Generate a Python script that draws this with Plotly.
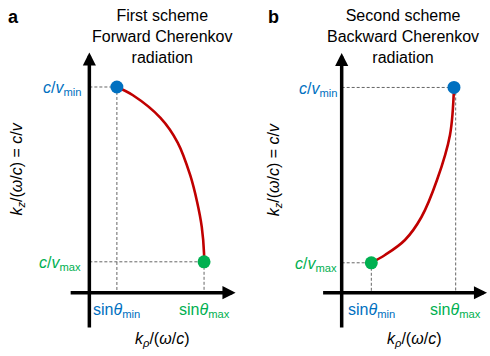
import plotly.graph_objects as go

# ---------------- data (schematic, normalised units) ----------------
# Panel a: first scheme, forward Cherenkov radiation
kr_a = [0.24, 0.38, 0.62, 0.77, 0.88, 0.94, 0.98, 1.0, 1.0]
kz_a = [1.0, 0.96, 0.85, 0.73, 0.57, 0.44, 0.32, 0.19, 0.15]
sin_min_a, sin_max_a = 0.24, 1.0
cv_min_a, cv_max_a = 1.0, 0.15

# Panel b: second scheme, backward Cherenkov radiation
kr_b = [0.26, 0.38, 0.555, 0.70, 0.836, 0.95, 0.985]
kz_b = [0.146, 0.184, 0.257, 0.369, 0.549, 0.769, 1.0]
sin_min_b, sin_max_b = 0.26, 1.0
cv_min_b, cv_max_b = 1.0, 0.146

titles = ["First scheme<br>Forward Cherenkov<br>radiation",
          "Second scheme<br>Backward Cherenkov<br>radiation"]
panel_letters = ["a", "b"]

BLUE = "#0070C0"
GREEN = "#00B050"
RED = "#C00000"
GREY = "#666666"
FONT = "Liberation Sans, Arial, sans-serif"

fig = go.Figure()

panels = [
    dict(xr="x", yr="y", kr=kr_a, kz=kz_a, smin=sin_min_a, smax=sin_max_a,
         cvmin=cv_min_a, cvmax=cv_max_a),
    dict(xr="x2", yr="y2", kr=kr_b, kz=kz_b, smin=sin_min_b, smax=sin_max_b,
         cvmin=cv_min_b, cvmax=cv_max_b),
]

dash_style = dict(color=GREY, width=1, dash="3px,2px")

for i, p in enumerate(panels):
    xr, yr = p["xr"], p["yr"]
    if i == 0:
        blue = (p["smin"], p["cvmin"])
        green = (p["smax"], p["cvmax"])
        vx_blue, vx_green = p["smin"], p["smax"]
    else:
        blue = (p["kr"][-1], p["cvmin"])
        green = (p["smin"], p["cvmax"])
        vx_blue, vx_green = p["smax"], p["smin"]
    # horizontal guides from the y axis
    fig.add_trace(go.Scatter(x=[0, blue[0]], y=[p["cvmin"], p["cvmin"]], mode="lines",
                             line=dash_style, xaxis=xr, yaxis=yr, hoverinfo="skip"))
    fig.add_trace(go.Scatter(x=[0, green[0]], y=[p["cvmax"], p["cvmax"]], mode="lines",
                             line=dash_style, xaxis=xr, yaxis=yr, hoverinfo="skip"))
    # vertical guides down to the x axis
    fig.add_trace(go.Scatter(x=[vx_blue, vx_blue], y=[p["cvmin"], 0], mode="lines",
                             line=dash_style, xaxis=xr, yaxis=yr, hoverinfo="skip"))
    fig.add_trace(go.Scatter(x=[vx_green, vx_green], y=[p["cvmax"], 0], mode="lines",
                             line=dash_style, xaxis=xr, yaxis=yr, hoverinfo="skip"))
    # red dispersion curve
    fig.add_trace(go.Scatter(x=p["kr"], y=p["kz"], mode="lines",
                             line=dict(color=RED, width=2.6, shape="spline", smoothing=1.0),
                             xaxis=xr, yaxis=yr, hoverinfo="skip"))
    # end points
    fig.add_trace(go.Scatter(x=[blue[0]], y=[blue[1]], mode="markers",
                             marker=dict(color=BLUE, size=13), xaxis=xr, yaxis=yr,
                             hoverinfo="skip"))
    fig.add_trace(go.Scatter(x=[green[0]], y=[green[1]], mode="markers",
                             marker=dict(color=GREEN, size=13), xaxis=xr, yaxis=yr,
                             hoverinfo="skip"))

    # axis arrows
    fig.add_annotation(x=0, y=1.168, ax=0, ay=-0.177, xref=xr, yref=yr,
                       axref=xr, ayref=yr, text="", showarrow=True, arrowhead=2,
                       arrowsize=0.75, arrowwidth=3.5, arrowcolor="black", standoff=0)
    fig.add_annotation(x=1.275, y=0, ax=-0.176, ay=0, xref=xr, yref=yr,
                       axref=xr, ayref=yr, text="", showarrow=True, arrowhead=2,
                       arrowsize=0.75, arrowwidth=3.5, arrowcolor="black", standoff=0)

    # tick-like labels
    fig.add_annotation(x=p["smin"], y=0, xref=xr, yref=yr, yshift=-18,
                       text="sin<i>θ</i><sub>min</sub>", showarrow=False,
                       font=dict(family=FONT, size=16, color=BLUE))
    fig.add_annotation(x=p["smax"], y=0, xref=xr, yref=yr, yshift=-18,
                       text="sin<i>θ</i><sub>max</sub>", showarrow=False,
                       font=dict(family=FONT, size=16, color=GREEN))
    fig.add_annotation(x=0, y=p["cvmin"], xref=xr, yref=yr, xanchor="right",
                       xshift=-6 if i == 0 else -3, yshift=-2,
                       text="<i>c</i>/<i>v</i><sub>min</sub>", showarrow=False,
                       font=dict(family=FONT, size=16, color=BLUE))
    fig.add_annotation(x=0, y=p["cvmax"], xref=xr, yref=yr, xanchor="right",
                       xshift=-6 if i == 0 else -3, yshift=-2,
                       text="<i>c</i>/<i>v</i><sub>max</sub>", showarrow=False,
                       font=dict(family=FONT, size=16, color=GREEN))

    # axis titles
    fig.add_annotation(x=0.63, y=0, xref=xr, yref=yr, yshift=-47,
                       text="<i>k</i><sub><i>ρ</i></sub>/(<i>ω</i>/<i>c</i>)",
                       showarrow=False, font=dict(family=FONT, size=16, color="black"))
    fig.add_annotation(x=0, y=0.6, xref=xr, yref=yr, xshift=-72 if i == 0 else -67,
                       text="<i>k</i><sub><i>z</i></sub>/(<i>ω</i>/<i>c</i>) = <i>c</i>/<i>v</i>",
                       textangle=-90, showarrow=False,
                       font=dict(family=FONT, size=16, color="black"))

# titles and panel letters
for xc, t in zip([162 / 490, 403 / 490], titles):
    fig.add_annotation(x=xc, y=1 - 5 / 356, xref="paper", yref="paper",
                       xanchor="center", yanchor="top",
                       text=t, showarrow=False, align="center",
                       font=dict(family=FONT, size=16, color="black"))
for xc, l in zip([13 / 490, 273 / 490], panel_letters):
    fig.add_annotation(x=xc, y=1 - 17 / 356, xref="paper", yref="paper",
                       xanchor="center", yanchor="middle",
                       text="<b>" + l + "</b>", showarrow=False,
                       font=dict(family=FONT, size=18, color="black"))

ax_common = dict(visible=False, fixedrange=True)
fig.update_layout(
    width=490, height=356, margin=dict(l=0, r=0, t=0, b=0),
    paper_bgcolor="white", plot_bgcolor="white", showlegend=False,
    xaxis=dict(domain=[0, 0.5], range=[-0.779, 1.357], **ax_common),
    yaxis=dict(domain=[0, 1], range=[-0.308, 1.423], anchor="x", **ax_common),
    xaxis2=dict(domain=[0.5, 1], range=[-0.848, 1.301], **ax_common),
    yaxis2=dict(domain=[0, 1], range=[-0.308, 1.426], anchor="x2", **ax_common),
)

fig.write_html("out.html")
